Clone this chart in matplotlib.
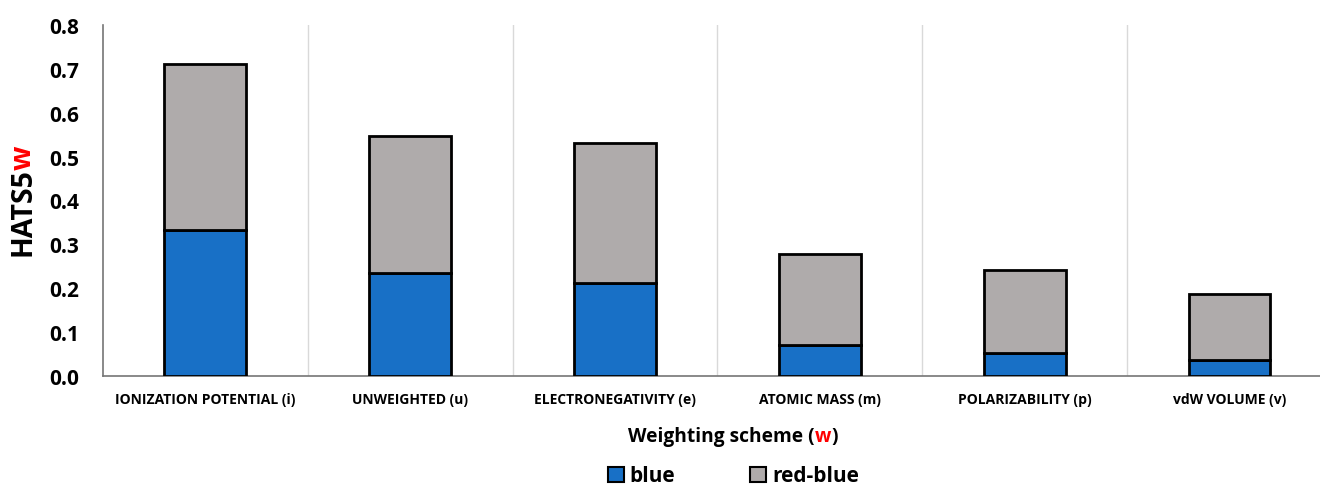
import matplotlib.pyplot as plt
from matplotlib.patches import Patch

# valeurs lues pour chaque schéma de pondération
schemes = ["IONIZATION POTENTIAL (i)", "UNWEIGHTED (u)", "ELECTRONEGATIVITY (e)",
           "ATOMIC MASS (m)", "POLARIZABILITY (p)", "vdW VOLUME (v)"]
blue = [0.333, 0.234, 0.211, 0.071, 0.053, 0.037]
total = [0.711, 0.547, 0.531, 0.279, 0.241, 0.188]
red_blue = [t - b for t, b in zip(total, blue)]
yticks = [0.0, 0.1, 0.2, 0.3, 0.4, 0.5, 0.6, 0.7, 0.8]

plt.rcParams['font.family'] = ['Open Sans', 'DejaVu Sans']
plt.rcParams['font.weight'] = 'bold'

fig = plt.figure(figsize=(13.2, 4.85), dpi=100)
ax = fig.add_axes([0.078, 0.2227, 0.931, 0.7237])

x = range(len(schemes))
ax.bar(x, blue, width=0.4, color="#1870C6", edgecolor="black", linewidth=2, zorder=3)
ax.bar(x, red_blue, width=0.4, bottom=blue, color="#AFABAB", edgecolor="black", linewidth=2, zorder=3)

# séparateurs verticaux entre catégories
for k in range(1, len(schemes)):
    ax.axvline(k - 0.5, color="#d9d9d9", linewidth=1, zorder=0)

ax.set_xlim(-0.5, len(schemes) - 0.5)
ax.set_ylim(0, 0.8)
ax.set_yticks(yticks)
ax.set_yticklabels([f"{v:.1f}" for v in yticks], fontsize=15, fontweight='bold')
ax.set_xticks(list(x))
ax.set_xticklabels(schemes, fontsize=10, fontweight='bold')
ax.tick_params(axis='x', length=0, pad=11.5)
ax.tick_params(axis='y', length=0, pad=17)
for s in ["top", "right"]:
    ax.spines[s].set_visible(False)
ax.spines["left"].set_color("#767676")
ax.spines["bottom"].set_color("#767676")
ax.spines["left"].set_linewidth(1.2)
ax.spines["bottom"].set_linewidth(1.2)

fig.canvas.draw()
r = fig.canvas.get_renderer()
H = fig.bbox.height
W = fig.bbox.width

# titre de l'axe y : HATS5 + w en rouge, centré vers y = 200 px
t1 = fig.text(0.0175, 0.0, "HATS5", rotation=90, fontsize=20.5, fontweight='bold',
              ha='center', va='bottom')
t2 = fig.text(0.0175, 0.0, "w", rotation=90, fontsize=20.5, fontweight='bold',
              color="red", ha='center', va='bottom')
h1 = t1.get_window_extent(r).height
h2 = t2.get_window_extent(r).height
y0 = (485 - 200) - (h1 + h2) / 2
t1.set_y(y0 / H)
t2.set_y((y0 + h1 - 2) / H)

# titre de l'axe x : Weighting scheme (w)
y_lab = 1 - 437 / 485
a = fig.text(628 / W, y_lab, "Weighting scheme (", fontsize=13.8, fontweight='bold', ha='left', va='center')
ba = a.get_window_extent(r)
b = fig.text(ba.x1 / W, y_lab, "w", fontsize=13.8, fontweight='bold', color="red",
             ha='left', va='center')
bw = b.get_window_extent(r)
fig.text(bw.x1 / W, y_lab, ")", fontsize=13.8, fontweight='bold', ha='left', va='center')

handles = [Patch(facecolor="#1870C6", edgecolor="black", linewidth=1.5, label="blue"),
           Patch(facecolor="#AFABAB", edgecolor="black", linewidth=1.5, label="red-blue")]
fig.legend(handles=handles, loc='center', bbox_to_anchor=(0.5557, 1 - 477 / 485), ncol=2,
           frameon=False, prop={'size': 15, 'weight': 'bold'}, handlelength=0.75,
           handleheight=0.75, handletextpad=0.3, columnspacing=3.6)

fig.savefig("out.png", dpi=100)
